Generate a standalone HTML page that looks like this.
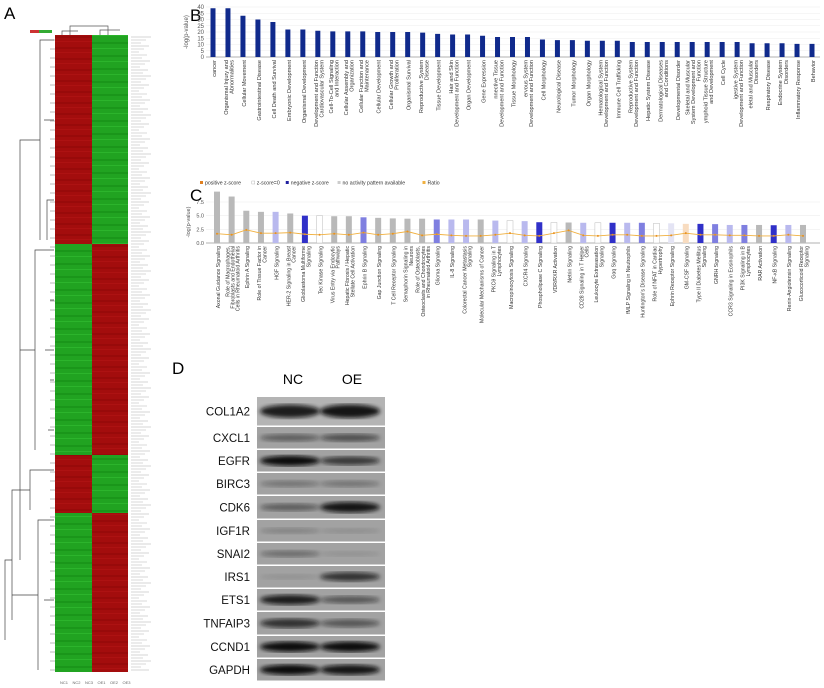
<!DOCTYPE html>
<html><head><meta charset="utf-8">
<style>
body{margin:0;background:#fff;}
svg{display:block;font-family:"Liberation Sans",Arial,sans-serif;}
</style></head>
<body>
<svg id="fig" width="824" height="688" viewBox="0 0 824 688" xmlns="http://www.w3.org/2000/svg">
<defs>
<filter id="blur2"><feGaussianBlur stdDeviation="2"/></filter>
<pattern id="greenStripes" width="8" height="13" patternUnits="userSpaceOnUse">
<rect width="8" height="13" fill="#21a321"/><rect y="3" width="8" height="2" fill="#1a961a"/><rect y="9" width="8" height="1" fill="#2cb42c"/></pattern>
<pattern id="redStripes" width="8" height="11" patternUnits="userSpaceOnUse">
<rect width="8" height="11" fill="#a30d0d"/><rect y="3" width="8" height="2" fill="#980a0a"/><rect y="8" width="8" height="1" fill="#ad1212"/></pattern>
</defs>

<text x="4" y="19" font-size="17">A</text>
<text x="190" y="21" font-size="17">B</text>
<text x="190" y="201" font-size="17">C</text>
<text x="172" y="374" font-size="17">D</text>

<g id="heatmap">
<rect x="30" y="30" width="22" height="3" fill="#c33"/>
<rect x="39" y="30" width="13" height="3" fill="#3a3"/>
<path d="M70 35 V26 H108 V35 M62 35 V31 H78 M100 35 V30 H120" stroke="#555" fill="none" stroke-width="0.7"/>
</g>
<g id="rowlabels"></g>
<g id="rowdendro"></g>

<g id="panelB"></g>
<g id="panelC"></g>
<g id="panelD">
<text x="293" y="384" font-size="14" text-anchor="middle">NC</text>
<text x="352" y="384" font-size="14" text-anchor="middle">OE</text>
</g>
</svg>
<script>
const NS="http://www.w3.org/2000/svg";
function mk(tag,attrs,parent){const e=document.createElementNS(NS,tag);for(const k in attrs)e.setAttribute(k,attrs[k]);parent.appendChild(e);return e;}
function wrap(s,n){const w=s.split(' ');const lines=[];let cur='';w.forEach(x=>{if(cur&&(cur+' '+x).length>n){lines.push(cur);cur=x;}else cur=cur?cur+' '+x:x;});if(cur)lines.push(cur);return lines.slice(0,3);}
function rotLabel(g,x,y,text,fs,n,name){
 const lines=wrap(text,n);
 const t=mk('text',{transform:`translate(${x},${y}) rotate(-90)`,"font-size":fs,"text-anchor":"end",fill:'#333'},g);
 const off=-(lines.length-1)*fs*0.5;
 lines.forEach((l,k)=>{
  const ts=mk('tspan',{x:0,y:off+k*fs*1.0+fs*0.35},t);
  ts.textContent=l;
 });
 
 
}

const hmBlocksY=[35,244,455,513,672];
const hmLeftRed=[true,false,true,false];
(function(){
 const g=document.getElementById('heatmap');
 const xL=55,xM=92,xR=128;
 for(let i=0;i<hmLeftRed.length;i++){
  const y0=hmBlocksY[i],y1=hmBlocksY[i+1];
  const a=mk('rect',{x:xL,y:y0,width:xM-xL,height:y1-y0,fill:hmLeftRed[i]?'url(#redStripes)':'url(#greenStripes)'},g);
  
  
  const b=mk('rect',{x:xM,y:y0,width:xR-xM,height:y1-y0,fill:hmLeftRed[i]?'url(#greenStripes)':'url(#redStripes)'},g);
  
  
 }
 const lg=document.getElementById('rowlabels');
 for(let y=37;y<672;y+=3){
  const w=8+((y*7)%13);
  mk('line',{x1:131,y1:y,x2:131+w,y2:y,stroke:'#c8c8c8',"stroke-width":0.7},lg);
 }
 const dg=document.getElementById('rowdendro');
 const p="M54 40 H40 V240 M54 120 H44 M54 200 H47 V240 M40 140 H20 V560 M54 250 H35 V450 M54 350 H45 M54 430 H48 M35 350 H20 M54 470 H30 V510 M30 490 H12 V620 M54 520 H38 V670 M54 600 H44 M38 595 H12 M12 560 H5 V640 M54 300 H50 M54 380 H50";
 mk('path',{d:p,stroke:'#444',fill:'none',"stroke-width":0.7},dg);
 for(let y=40;y<672;y+=9){mk('line',{x1:50,y1:y,x2:55,y2:y,stroke:'#777',"stroke-width":0.5},dg);}
 const colNames=['NC1','NC2','NC3','OE1','OE2','OE3'];
 colNames.forEach((c,i)=>{const t=mk('text',{x:60+i*12.5,y:684,"font-size":4,fill:'#666'},lg);t.textContent=c;});
})();

const bCategories=["cancer","Organismal Injury and Abnormalities","Cellular Movement","Gastrointestinal Disease","Cell Death and Survival","Embryonic Development","Organismal Development","Development and Function Cardiovascular System","Cell-To-Cell Signaling and Interaction","Cellular Assembly and Organization","Cellular Function and Maintenance","Cellular Development","Cellular Growth and Proliferation","Organismal Survival","Reproductive System Disease","Tissue Development","Hair and Skin Development and Function","Organ Development","Gene Expression","nnective Tissue Development and Function","Tissue Morphology","ervous System Development and Function","Cell Morphology","Neurological Disease","Tumor Morphology","Organ Morphology","Hematological System Development and Function","Immune Cell Trafficking","Reproductive System Development and Function","Hepatic System Disease","Dermatological Diseases and Conditions","Developmental Disorder","Skeletal and Muscular System Development and Function","ymphoid Tissue Structure and Development","Cell Cycle","igestive System Development and Function","eletal and Muscular Disorders","Respiratory Disease","Endocrine System Disorders","Inflammatory Response","Behavior"];
const bValues=[39,39,33,30,28,22,22,21,20.5,20.5,20.5,20,20,20,19.5,18.5,18,18,17,16,16,16,14,13.5,13.5,13,13,13,12,12,12,12,12,12,12,12,11,11,11,10.5,10.5];
const bTicks=[0,5,10,15,20,25,30,35,40];
(function(){
 const g=document.getElementById('panelB');
 const x0=206,x1=820,yB=57,yT=7,max=40;
 const step=(812-213)/(bCategories.length-1);
 const xs=i=>213+i*step;
 const ys=v=>yB-(v/max)*(yB-yT);
 bTicks.forEach(t=>{
  mk('line',{x1:x0,y1:ys(t),x2:x1,y2:ys(t),stroke:'#eee',"stroke-width":0.6},g);
  const tx=mk('text',{x:x0-2,y:ys(t)+2,"font-size":6,"text-anchor":"end",fill:'#555'},g);tx.textContent=t;
 });
 mk('line',{x1:x0,y1:yB,x2:x1,y2:yB,stroke:'#999',"stroke-width":0.7},g);
 const yl=mk('text',{transform:`translate(188,${(yB+yT)/2}) rotate(-90)`,"font-size":6,"text-anchor":"middle",fill:'#555'},g);yl.textContent='-log(p-value)';
 
 
 bValues.forEach((v,i)=>{
  const r=mk('rect',{x:xs(i)-2.5,y:ys(v),width:5,height:yB-ys(v),fill:'#102a8c'},g);
  
  
  rotLabel(g,xs(i)+1,yB+3,bCategories[i],5.6,24,'b-category-label');
 });
})();

const cCategories=["Axonal Guidance Signaling","Role of Macrophages, Fibroblasts and Endothelial Cells in Rheumatoid Arthritis","Ephrin A Signaling","Role of Tissue Factor in Cancer","HGF Signaling","HER-2 Signaling in Breast Cancer","Glioblastoma Multiforme Signaling","Tec Kinase Signaling","Virus Entry via Endocytic Pathways","Hepatic Fibrosis / Hepatic Stellate Cell Activation","Ephrin B Signaling","Gap Junction Signaling","T Cell Receptor Signaling","Semaphorin Signaling in Neurons","Role of Osteoblasts, Osteoclasts and Chondrocytes in Rheumatoid Arthritis","Glioma Signaling","IL-8 Signaling","Colorectal Cancer Metastasis Signaling","Molecular Mechanisms of Cancer","PKCθ Signaling in T Lymphocytes","Macropinocytosis Signaling","CXCR4 Signaling","Phospholipase C Signaling","VDR/RXR Activation","Netrin Signaling","CD28 Signaling in T Helper Cells","Leukocyte Extravasation Signaling","Gαq Signaling","fMLP Signaling in Neutrophils","Huntington's Disease Signaling","Role of NFAT in Cardiac Hypertrophy","Ephrin Receptor Signaling","GM-CSF Signaling","Type II Diabetes Mellitus Signaling","GNRH Signaling","CCR3 Signaling in Eosinophils","PI3K Signaling in B Lymphocytes","RAR Activation","NF-κB Signaling","Renin-Angiotensin Signaling","Glucocorticoid Receptor Signaling"];
const cValues=[9.4,8.5,5.9,5.7,5.7,5.4,5.0,5.0,4.9,4.9,4.7,4.6,4.5,4.45,4.45,4.3,4.3,4.3,4.3,4.1,4.1,4.0,3.8,3.75,3.75,3.7,3.7,3.7,3.7,3.7,3.6,3.6,3.5,3.5,3.45,3.3,3.3,3.3,3.25,3.3,3.3];
const cZscore=["none","none","none","none","neg1","none","neg3","zero","none","none","neg2","none","none","none","none","neg2","neg1","neg1","none","neg1","zero","neg1","neg3","zero","none","neg1","zero","neg3","neg1","neg2","zero","neg0","pos","neg3","neg2","neg1","neg2","none","neg3","neg1","none"];
const cRatio=[1.7,1.5,2.4,1.8,1.8,1.9,1.6,1.5,1.7,1.5,1.9,1.5,1.7,2.1,1.4,1.6,1.4,1.3,1.3,1.5,1.8,1.4,1.3,1.8,2.3,1.4,1.3,1.5,1.5,1.3,1.3,1.4,1.8,1.5,1.5,1.4,1.4,1.3,1.3,1.5,1.3];
const cTicks=[0,2.5,5,7.5];
const cTickLabels=["0.0","2.5","5.0","7.5"];
const zFill={none:'#b9b9b9',neg1:'#b9b9ee',neg2:'#7f7fe0',neg3:'#3030c8',neg0:'#e4e4f4',zero:'#ffffff',pos:'#f8dcc0'};
(function(){
 const g=document.getElementById('panelC');
 const x0=206,x1=820,yB=243,max=7.5,yT=202;
 const step=(803-217)/(cCategories.length-1);
 const xs=i=>217+i*step;
 const ys=v=>yB-(v/max)*(yB-yT);
 const leg=[['#e08020','positive z-score'],['#ffffff','z-score=0'],['#2020a0','negative z-score'],['#cccccc','no activity pattern available'],['#f0b040','Ratio']];
 let lx=200;
 leg.forEach(([c,l])=>{
  const s=mk('rect',{x:lx,y:181,width:3,height:3,fill:c,stroke:c==='#ffffff'?'#aaa':'none',"stroke-width":0.4},g);
  
  
  const t=mk('text',{x:lx+5,y:184.5,"font-size":5.2,fill:'#333'},g);t.textContent=l;
  
  
  lx+=5+l.length*2.55+6;
 });
 cTicks.forEach((t,k)=>{
  mk('line',{x1:x0,y1:ys(t),x2:x1,y2:ys(t),stroke:'#eee',"stroke-width":0.6},g);
  const tx=mk('text',{x:x0-2,y:ys(t)+2,"font-size":5.5,"text-anchor":"end",fill:'#555'},g);tx.textContent=cTickLabels[k];
 });
 mk('line',{x1:x0,y1:yB,x2:x1,y2:yB,stroke:'#999',"stroke-width":0.7},g);
 const yl=mk('text',{transform:`translate(190,222) rotate(-90)`,"font-size":5.5,"text-anchor":"middle",fill:'#555'},g);yl.textContent='-log(p-value)';
 
 
 cValues.forEach((v,i)=>{
  const f=zFill[cZscore[i]];
  const r=mk('rect',{x:xs(i)-3,y:ys(v),width:6,height:yB-ys(v),fill:f,stroke:f==='#ffffff'?'#bbb':'none',"stroke-width":0.5},g);
  
  
  rotLabel(g,xs(i)+1,yB+3,cCategories[i],5.2,30,'c-category-label');
 });
 let d='';
 cRatio.forEach((v,i)=>{d+=(i?'L':'M')+xs(i)+' '+ys(v);});
 const ln=mk('path',{d:d,fill:'none',stroke:'#f0b040',"stroke-width":0.9},g);
 
 
 cRatio.forEach((v,i)=>{
  const c=mk('circle',{cx:xs(i),cy:ys(v),r:1,fill:'#e89020'},g);
  
  
 });
})();

const dProteins=["COL1A2","CXCL1","EGFR","BIRC3","CDK6","IGF1R","SNAI2","IRS1","ETS1","TNFAIP3","CCND1","GAPDH"];
const dNC=[0.9,0.45,1.0,0.3,0.45,0.2,0.35,0.1,0.9,0.75,1.0,1.0];
const dOE=[0.95,0.55,0.7,0.3,0.95,0.12,0.1,0.75,0.5,0.5,1.0,0.95];
(function(){
 const g=document.getElementById('panelD');
 const xL=257,xR=385;
 const rowsY=[397,427,450,473,496,520,543,566,589,612,636,659,682];
 dProteins.forEach((p,i)=>{
  const y0=rowsY[i],y1=rowsY[i+1]-1.5,h=y1-y0,cy=(y0+y1)/2;
  const bg=mk('rect',{x:xL,y:y0,width:xR-xL,height:h,fill:i===0?'#b4b4b4':'#a2a2a2'},g);
  
  
  [[290,dNC[i]],[350,dOE[i]]].forEach(([cx,v])=>{
   const e=mk('ellipse',{cx:cx,cy:cy,rx:30,ry:Math.max(2,h*0.22*(0.5+v*0.6)),fill:'#0a0a0a',opacity:Math.min(1,v),filter:'url(#blur2)'},g);
   
   
  });
  const t=mk('text',{x:250,y:cy+4,"font-size":11.5,"text-anchor":"end",fill:'#111'},g);
  t.textContent=p;
  
  
 });
})();
</script>
</body></html>
